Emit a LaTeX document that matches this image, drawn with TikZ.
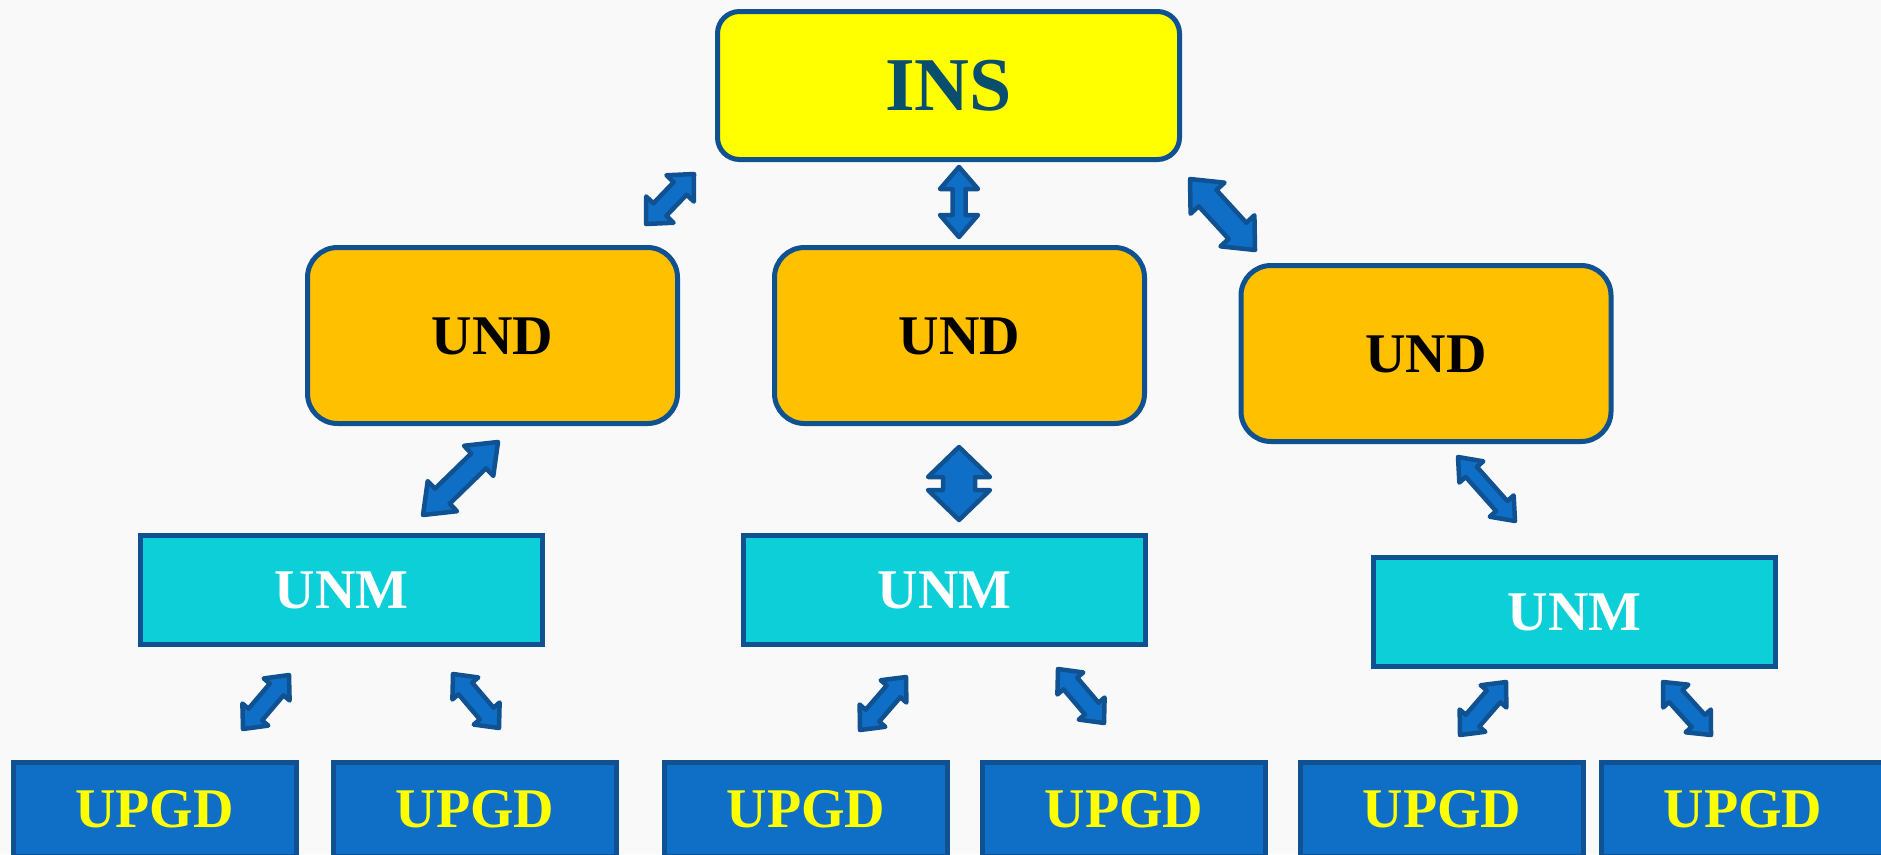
\documentclass[tikz,border=0pt]{standalone}
\usepackage{fontspec}
\setmainfont{Liberation Serif}
\usetikzlibrary{calc}
\definecolor{bordercol}{RGB}{16,82,145}
\definecolor{insfill}{RGB}{255,255,0}
\definecolor{instext}{RGB}{10,78,110}
\definecolor{undfill}{RGB}{255,192,0}
\definecolor{unmfill}{RGB}{13,207,216}
\definecolor{upgdfill}{RGB}{15,111,198}
\definecolor{arrfill}{RGB}{15,111,198}
\definecolor{bgcol}{RGB}{249,249,249}
\newcommand\blockarr[5]{%
  \filldraw[arrowstyle] (#1)
    -- ($(#1)!#5!(#2)!#4!90:(#2)$)
    -- ($(#1)!#5!(#2)!#3!90:(#2)$)
    -- ($(#2)!#5!(#1)!#3!-90:(#1)$)
    -- ($(#2)!#5!(#1)!#4!-90:(#1)$)
    -- (#2)
    -- ($(#2)!#5!(#1)!#4!90:(#1)$)
    -- ($(#2)!#5!(#1)!#3!90:(#1)$)
    -- ($(#1)!#5!(#2)!#3!-90:(#2)$)
    -- ($(#1)!#5!(#2)!#4!-90:(#2)$)
    -- cycle;}
\begin{document}
\begin{tikzpicture}[x=1pt,y=-1pt,
  basebox/.style={draw=bordercol, line width=5pt, inner sep=0pt, text depth=0pt},
  insbox/.style={basebox, fill=insfill, rounded corners=22pt, minimum width=462pt, minimum height=148pt,
     text=instext, font=\fontsize{76}{80}\selectfont\bfseries, text height=50pt},
  undbox/.style={basebox, fill=undfill, rounded corners=30pt, minimum width=370pt, minimum height=176pt,
     text=black, font=\fontsize{56}{60}\selectfont\bfseries, text height=37pt},
  unmbox/.style={basebox, fill=unmfill, minimum width=402pt, minimum height=109pt,
     text=white, font=\fontsize{56}{60}\selectfont\bfseries, text height=37pt},
  upgdbox/.style={basebox, fill=upgdfill, minimum width=283pt, minimum height=94pt,
     text=insfill, font=\fontsize{56}{60}\selectfont\bfseries, text height=37pt},
  arrowstyle/.style={fill=arrfill, draw=bordercol, line width=4.5pt, line join=round}]
\useasboundingbox (0,0) rectangle (1881,854);
\fill[bgcol] (0,0) rectangle (1881,854);

% nodes
\node[insbox] (ins) at (948.5,85.5) {INS};
\node[undbox] (und1) at (492.5,335.5) {UND};
\node[undbox] (und2) at (959.5,335.5) {UND};
\node[undbox] (und3) at (1426,353.5) {UND};
\node[unmbox] (unm1) at (341.5,590) {UNM};
\node[unmbox] (unm2) at (944.5,590) {UNM};
\node[unmbox] (unm3) at (1574.5,612) {UNM};
\node[upgdbox] (p1) at (154.5,809) {UPGD};
\node[upgdbox] (p2) at (475,809) {UPGD};
\node[upgdbox] (p3) at (806,809) {UPGD};
\node[upgdbox] (p4) at (1124,809) {UPGD};
\node[upgdbox] (p5) at (1442,809) {UPGD};
\node[upgdbox] (p6) at (1743,809) {UPGD};

% arrow end points
\coordinate (a1s) at (694,174);  \coordinate (a1e) at (646,224);
\coordinate (a2s) at (959,167);  \coordinate (a2e) at (959,237);
\coordinate (a3s) at (1190,179); \coordinate (a3e) at (1255,250);
\coordinate (a4s) at (498,442);  \coordinate (a4e) at (423,515);
\coordinate (a5s) at (959,447);  \coordinate (a5e) at (959,520);
\coordinate (a6s) at (1458,457); \coordinate (a6e) at (1515,521);
\coordinate (a7s) at (289,675);  \coordinate (a7e) at (243,729);
\coordinate (a8s) at (453,674);  \coordinate (a8e) at (499,728);
\coordinate (a9s) at (906,677);  \coordinate (a9e) at (860,730);
\coordinate (a10s) at (1058,669); \coordinate (a10e) at (1104,723);
\coordinate (a11s) at (1506,682); \coordinate (a11e) at (1460,735);
\coordinate (a12s) at (1663,682); \coordinate (a12e) at (1711,735);

\blockarr{a1s}{a1e}{9pt}{19pt}{20pt}
\blockarr{a2s}{a2e}{6.5pt}{19pt}{22pt}
\blockarr{a3s}{a3e}{12pt}{23pt}{26pt}
\blockarr{a4s}{a4e}{10.5pt}{21pt}{27pt}
\blockarr{a5s}{a5e}{16pt}{31pt}{30pt}
\blockarr{a6s}{a6e}{7.5pt}{16pt}{20pt}
\blockarr{a7s}{a7e}{9pt}{17pt}{19pt}
\blockarr{a8s}{a8e}{9pt}{17pt}{19pt}
\blockarr{a9s}{a9e}{9pt}{17pt}{19pt}
\blockarr{a10s}{a10e}{9pt}{17pt}{19pt}
\blockarr{a11s}{a11e}{9pt}{17pt}{19pt}
\blockarr{a12s}{a12e}{9pt}{17pt}{19pt}
\end{tikzpicture}
\end{document}
